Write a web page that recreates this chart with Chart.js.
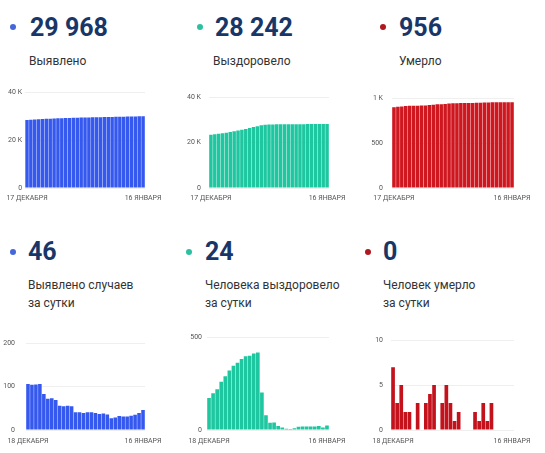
<!DOCTYPE html>
<html>
<head>
<meta charset="utf-8">
<script src="https://cdn.jsdelivr.net/npm/chart.js@4/dist/chart.umd.min.js"></script>
<style>
  body { margin: 0; background: #fff; font-family: Roboto, sans-serif; }
  #wrap { position: relative; width: 545px; height: 453px; overflow: hidden; }
  .dot { position: absolute; width: 6px; height: 6px; border-radius: 50%; }
  .num { position: absolute; font-size: 25px; line-height: 26px; font-weight: 700; color: #183668; white-space: nowrap; }
  .lbl { position: absolute; font-size: 12px; line-height: 18px; color: #333; white-space: nowrap; }
  canvas { position: absolute; }
</style>
</head>
<body>
<div id="wrap">
  <div class="dot" style="left:10px;top:24px;background:#4667d8"></div>
  <div class="num" id="n1" style="left:30px;top:15px"></div>
  <div class="lbl" style="left:29px;top:52px">Выявлено</div>

  <div class="dot" style="left:197px;top:24px;background:#2cc0a0"></div>
  <div class="num" id="n2" style="left:215px;top:15px"></div>
  <div class="lbl" style="left:213px;top:52px">Выздоровело</div>

  <div class="dot" style="left:380px;top:24px;background:#b01820"></div>
  <div class="num" id="n3" style="left:399px;top:15px"></div>
  <div class="lbl" style="left:399px;top:52px">Умерло</div>

  <div class="dot" style="left:10px;top:249px;background:#4667d8"></div>
  <div class="num" id="n4" style="left:28px;top:239px"></div>
  <div class="lbl" style="left:28px;top:276px">Выявлено случаев<br>за сутки</div>

  <div class="dot" style="left:186px;top:249px;background:#2cc0a0"></div>
  <div class="num" id="n5" style="left:205px;top:239px"></div>
  <div class="lbl" style="left:205px;top:276px">Человека выздоровело<br>за сутки</div>

  <div class="dot" style="left:365px;top:249px;background:#b01820"></div>
  <div class="num" id="n6" style="left:383px;top:239px"></div>
  <div class="lbl" style="left:383px;top:276px">Человек умерло<br>за сутки</div>

  <canvas id="c1" width="170" height="120" style="left:0px;top:85px"></canvas>
  <canvas id="c2" width="175" height="120" style="left:180px;top:85px"></canvas>
  <canvas id="c3" width="182" height="120" style="left:360px;top:85px"></canvas>
  <canvas id="c4" width="170" height="120" style="left:0px;top:328px"></canvas>
  <canvas id="c5" width="175" height="120" style="left:180px;top:328px"></canvas>
  <canvas id="c6" width="182" height="120" style="left:360px;top:328px"></canvas>
</div>
<script>
// dates, 17 Dec - 16 Jan
const days = ['17 ДЕКАБРЯ', '18 ДЕКАБРЯ', '19 ДЕКАБРЯ', '20 ДЕКАБРЯ', '21 ДЕКАБРЯ', '22 ДЕКАБРЯ', '23 ДЕКАБРЯ',
  '24 ДЕКАБРЯ', '25 ДЕКАБРЯ', '26 ДЕКАБРЯ', '27 ДЕКАБРЯ', '28 ДЕКАБРЯ', '29 ДЕКАБРЯ', '30 ДЕКАБРЯ', '31 ДЕКАБРЯ',
  '1 ЯНВАРЯ', '2 ЯНВАРЯ', '3 ЯНВАРЯ', '4 ЯНВАРЯ', '5 ЯНВАРЯ', '6 ЯНВАРЯ', '7 ЯНВАРЯ', '8 ЯНВАРЯ',
  '9 ЯНВАРЯ', '10 ЯНВАРЯ', '11 ЯНВАРЯ', '12 ЯНВАРЯ', '13 ЯНВАРЯ', '14 ЯНВАРЯ', '15 ЯНВАРЯ', '16 ЯНВАРЯ'];
const dailyDays = days.slice(1);

// totals
const totalCases = [28372, 28478, 28582, 28687, 28793, 28876, 28948, 29021, 29090, 29146, 29201, 29257, 29312, 29353, 29394,
  29433, 29474, 29515, 29554, 29591, 29629, 29665, 29692, 29721, 29753, 29784, 29815, 29848, 29883, 29922, 29968];
const totalRecovered = [23495, 23667, 23865, 24084, 24344, 24633, 24954, 25300, 25663, 26045, 26442, 26842, 27254, 27672, 27874,
  27953, 27992, 28032, 28053, 28067, 28074, 28079, 28089, 28107, 28126, 28145, 28164, 28183, 28204, 28218, 28242];
const totalDeaths = [898, 905, 908, 913, 915, 917, 917, 920, 920, 923, 927, 932, 932, 935, 940,
  943, 944, 946, 946, 946, 946, 948, 949, 952, 953, 956, 956, 956, 956, 956, 956];

// per day, 18 Dec - 16 Jan
const newCases = [106, 104, 105, 106, 83, 72, 73, 69, 56, 55, 56, 55, 41, 41, 39,
  41, 41, 39, 37, 38, 36, 27, 29, 32, 31, 31, 33, 35, 39, 46];
const newRecovered = [172, 198, 219, 260, 289, 321, 346, 363, 382, 397, 400, 412, 418, 202, 79,
  39, 40, 21, 14, 7, 5, 10, 18, 19, 19, 19, 19, 21, 14, 24];
const newDeaths = [7, 3, 5, 2, 2, 0, 3, 0, 3, 4, 5, 0, 3, 5, 3,
  1, 2, 0, 0, 0, 2, 1, 3, 1, 3, 0, 0, 0, 0, 0];

const BLUE = '#3558ef';
const TEAL = '#1fc7a1';
const RED = '#cf1720';

function fmt(n) {
  return String(n).replace(/\B(?=(\d{3})+(?!\d))/g, ' ');
}
const last = a => a[a.length - 1];
document.getElementById('n1').textContent = fmt(last(totalCases));
document.getElementById('n2').textContent = fmt(last(totalRecovered));
document.getElementById('n3').textContent = fmt(last(totalDeaths));
document.getElementById('n4').textContent = fmt(last(newCases));
document.getElementById('n5').textContent = fmt(last(newRecovered));
document.getElementById('n6').textContent = fmt(last(newDeaths));

const kFmt = v => v === 0 ? '0' : (v >= 1000 ? v / 1000 + ' K' : String(v));

function barChart(id, labels, values, color, yMax, yStep, box) {
  return new Chart(document.getElementById(id), {
    type: 'bar',
    data: {
      labels: labels,
      datasets: [{ data: values, backgroundColor: color, barPercentage: 0.9, categoryPercentage: 1 }]
    },
    options: {
      responsive: false,
      animation: false,
      layout: { padding: { top: box.padTop, right: box.padRight, left: 0, bottom: 0 } },
      plugins: { legend: { display: false }, tooltip: { enabled: false } },
      scales: {
        x: {
          grid: { display: false, drawTicks: false },
          border: { display: false },
          ticks: {
            autoSkip: false, maxRotation: 0, padding: box.xPad, color: '#555',
            font: { size: 7, family: 'Roboto' },
            callback: function (v, i, t) {
              return (i === 0 || i === t.length - 1) ? this.getLabelForValue(v) : '';
            }
          },
          afterFit: s => { s.height = box.xH; }
        },
        y: {
          min: 0, max: yMax,
          grid: { color: '#efefef', drawTicks: false },
          border: { display: false },
          ticks: { stepSize: yStep, padding: box.yPad, color: '#555', font: { size: 7, family: 'Roboto' }, callback: kFmt },
          afterFit: s => { s.width = box.yW; }
        }
      }
    }
  });
}

barChart('c1', days, totalCases, BLUE, 40000, 20000, { padTop: 7, padRight: 25, xH: 17, xPad: 6, yW: 25, yPad: 3 });
barChart('c2', days, totalRecovered, TEAL, 40000, 20000, { padTop: 7, padRight: 26, xH: 17, xPad: 6, yW: 29, yPad: 8 });
barChart('c3', days, totalDeaths, RED, 1000, 500, { padTop: 7, padRight: 28, xH: 17, xPad: 6, yW: 32, yPad: 9 });
barChart('c4', dailyDays, newCases, BLUE, 200, 100, { padTop: 7, padRight: 25, xH: 18, xPad: 7, yW: 23, yPad: 11 });
barChart('c5', dailyDays, newRecovered, TEAL, 500, 500, { padTop: 7, padRight: 26, xH: 18, xPad: 7, yW: 27, yPad: 5 });
barChart('c6', dailyDays, newDeaths, '#c3121c', 10, 5, { padTop: 7, padRight: 28, xH: 18, xPad: 7, yW: 31, yPad: 8 });
</script>
</body>
</html>
